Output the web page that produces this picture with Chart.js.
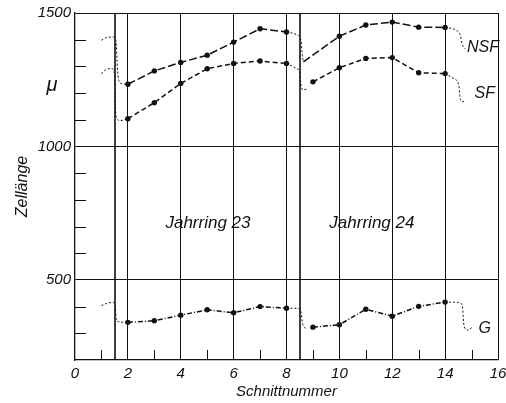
<!DOCTYPE html>
<html>
<head>
<meta charset="utf-8">
<script src="https://cdn.jsdelivr.net/npm/chart.js@4/dist/chart.umd.min.js"></script>
<style>
  html, body { margin: 0; padding: 0; background: #fff; }
  canvas { display: block; }
</style>
</head>
<body>
<canvas id="zell-chart" width="506" height="403"></canvas>
<script>
// Zellänge je Schnitt, Jahrring 23 (Schnitt 2-8) und 24 (Schnitt 9-14)
const schnitt23 = [2, 3, 4, 5, 6, 7, 8];
const schnitt24 = [9, 10, 11, 12, 13, 14];
const nsf23 = [1233, 1283, 1315, 1342, 1391, 1441, 1429];
const nsf24 = [null, 1413, 1455, 1466, 1447, 1446];
const sf23 = [1104, 1164, 1236, 1291, 1311, 1320, 1311];
const sf24 = [1242, 1295, 1330, 1333, 1276, 1273];
const g23 = [341, 347, 368, 388, 377, 400, 394];
const g24 = [323, 332, 390, 364, 401, 417];

// Übergänge (gestrichelt): Anlauf, Jahrringgrenze, Auslauf
const nsfLeadX = [1.0, 1.2, 1.4, 1.55, 1.6, 1.66, 1.8, 2];
const nsfLeadY = [1398, 1408, 1410, 1395, 1300, 1245, 1235, 1233];
const sfLeadX = [1.0, 1.2, 1.38, 1.5, 1.53, 1.58, 1.7, 2];
const sfLeadY = [1273, 1290, 1292, 1270, 1150, 1105, 1097, 1104];
const gLeadX = [1.0, 1.2, 1.42, 1.52, 1.56, 1.65, 2];
const gLeadY = [404, 412, 416, 400, 355, 343, 341];

const nsfBreakX = [8, 8.4, 8.55, 8.6, 8.64];
const nsfBreakY = [1429, 1418, 1395, 1340, 1317];
const sfBreakX = [8, 8.35, 8.5, 8.55, 8.62, 8.75];
const sfBreakY = [1311, 1294, 1275, 1230, 1212, 1215];
const gBreakX = [8, 8.44, 8.55, 8.6, 8.68, 8.8];
const gBreakY = [394, 393, 380, 340, 322, 318];

const nsfTailX = [14, 14.4, 14.58, 14.64, 14.75];
const nsfTailY = [1446, 1436, 1415, 1385, 1366];
const sfTailX = [14, 14.3, 14.52, 14.56, 14.65, 14.78];
const sfTailY = [1273, 1256, 1228, 1185, 1168, 1172];
const gTailX = [14, 14.5, 14.65, 14.7, 14.78, 14.9, 15.0];
const gTailY = [417, 416, 405, 340, 315, 312, 322];

const ringBreaks = [1.5, 8.5];
const xLabels = [0, 2, 4, 6, 8, 10, 12, 14, 16];
const yLabels = [500, 1000, 1500];

(function () {
    "use strict";

    const FONT = "'Liberation Sans', 'DejaVu Sans', sans-serif";
    const ink = "#111";

    function pts(xs, ys) {
        return xs.map((x, i) => ({ x: x, y: ys[i] }));
    }

    function mainLine(xs, ys, dash, extra) {
        return Object.assign({
            data: pts(xs, ys),
            borderColor: ink,
            borderWidth: 1.5,
            borderDash: dash,
            pointRadius: 2.7,
            pointBackgroundColor: ink,
            pointBorderWidth: 0,
            tension: 0,
            spanGaps: true
        }, extra || {});
    }

    function connector(xs, ys) {
        return {
            data: pts(xs, ys),
            borderColor: ink,
            borderWidth: 1,
            borderDash: [2, 2],
            pointRadius: 0,
            cubicInterpolationMode: "monotone"
        };
    }

    // NSF in Jahrring 24 beginnt am Fuß der Grenzkurve
    const nsf24X = [nsfBreakX[nsfBreakX.length - 1]].concat(schnitt24.slice(1));
    const nsf24Y = [nsfBreakY[nsfBreakY.length - 1]].concat(nsf24.slice(1));

    const datasets = [
        mainLine(schnitt23, nsf23, [8, 3]),
        mainLine(nsf24X, nsf24Y, [8, 3], { pointRadius: nsf24X.map((x, i) => i === 0 ? 0 : 2.7) }),
        mainLine(schnitt23, sf23, [5, 3]),
        mainLine(schnitt24, sf24, [5, 3]),
        mainLine(schnitt23, g23, [5, 2, 1, 2]),
        mainLine(schnitt24, g24, [5, 2, 1, 2]),
        connector(nsfLeadX, nsfLeadY),
        connector(sfLeadX, sfLeadY),
        connector(gLeadX, gLeadY),
        connector(nsfBreakX, nsfBreakY),
        connector(sfBreakX, sfBreakY),
        connector(gBreakX, gBreakY),
        connector(nsfTailX, nsfTailY),
        connector(sfTailX, sfTailY),
        connector(gTailX, gTailY)
    ];

    // Innenliegende Teilstriche, Jahrringgrenzen und Beschriftungen
    const decorations = {
        id: "decorations",
        beforeDatasetsDraw(chart) {
            const { ctx, chartArea: a, scales: { x, y } } = chart;
            ctx.save();
            ctx.strokeStyle = ink;
            ctx.lineWidth = 1;
            ctx.beginPath();
            for (let v = 1; v < 16; v += 2) {
                const px = Math.round(x.getPixelForValue(v)) + 0.5;
                ctx.moveTo(px, a.bottom);
                ctx.lineTo(px, a.bottom - 10);
            }
            for (let v = 300; v < 1500; v += 100) {
                if (yLabels.includes(v)) continue;
                const py = Math.round(y.getPixelForValue(v)) + 0.5;
                ctx.moveTo(a.left, py);
                ctx.lineTo(a.left + 11, py);
            }
            ctx.stroke();

            ctx.lineWidth = 1.6;
            ctx.beginPath();
            ringBreaks.forEach(v => {
                const px = Math.round(x.getPixelForValue(v));
                ctx.moveTo(px, a.top);
                ctx.lineTo(px, a.bottom);
            });
            ctx.stroke();
            ctx.restore();
        },
        afterDatasetsDraw(chart) {
            const { ctx, scales: { x, y } } = chart;
            ctx.save();
            ctx.fillStyle = ink;
            ctx.textAlign = "center";
            ctx.textBaseline = "middle";
            ctx.font = "italic 17px " + FONT;
            ctx.fillText("Jahrring 23", x.getPixelForValue(5.03), y.getPixelForValue(714));
            ctx.fillText("Jahrring 24", x.getPixelForValue(11.23), y.getPixelForValue(714));
            ctx.font = "italic 16px " + FONT;
            ctx.fillText("NSF", x.getPixelForValue(15.43), y.getPixelForValue(1372));
            ctx.fillText("SF", x.getPixelForValue(15.5), y.getPixelForValue(1199));
            ctx.fillText("G", x.getPixelForValue(15.5), y.getPixelForValue(316));
            ctx.font = "italic 20px " + FONT;
            ctx.fillText("\u03bc", x.getPixelForValue(-0.87), y.getPixelForValue(1229));
            ctx.restore();
        }
    };

    const tickFont = { family: FONT, size: 15, style: "italic" };

    new Chart(document.getElementById("zell-chart"), {
        type: "line",
        data: { datasets: datasets },
        options: {
            responsive: false,
            animation: false,
            layout: { padding: { top: 13, right: 8, left: 0, bottom: 0 } },
            plugins: {
                legend: { display: false },
                tooltip: { enabled: false }
            },
            scales: {
                x: {
                    type: "linear",
                    min: 0,
                    max: 16,
                    afterFit(s) {
                        s.height = 43;
                        s.paddingLeft = 0;
                        s.paddingRight = 0;
                    },
                    ticks: {
                        stepSize: 1,
                        autoSkip: false,
                        maxRotation: 0,
                        padding: 5,
                        color: ink,
                        font: tickFont,
                        callback: v => xLabels.includes(v) ? String(v) : ""
                    },
                    grid: {
                        drawTicks: false,
                        lineWidth: 1,
                        color: c => (c.tick && xLabels.includes(c.tick.value) && c.tick.value > 0) ? ink : "rgba(0,0,0,0)"
                    },
                    border: { display: true, color: ink, width: 1.3 },
                    title: {
                        display: true,
                        text: "Schnittnummer",
                        color: ink,
                        font: { family: FONT, size: 15, style: "italic" },
                        padding: { top: 0, bottom: 2 }
                    }
                },
                y: {
                    min: 200,
                    max: 1500,
                    afterFit(s) {
                        s.width = 75;
                        s.paddingTop = 0;
                        s.paddingBottom = 0;
                    },
                    ticks: {
                        stepSize: 100,
                        autoSkip: false,
                        padding: 4,
                        color: ink,
                        font: tickFont,
                        callback: v => yLabels.includes(v) ? String(v) : ""
                    },
                    grid: {
                        drawTicks: false,
                        lineWidth: 1,
                        color: c => (c.tick && yLabels.includes(c.tick.value)) ? ink : "rgba(0,0,0,0)"
                    },
                    border: { display: true, color: ink, width: 1.3 },
                    title: {
                        display: true,
                        text: "Zellänge",
                        color: ink,
                        font: { family: FONT, size: 16, style: "italic" },
                        padding: { top: 13, bottom: 0 }
                    }
                }
            }
        },
        plugins: [decorations]
    });
})();
</script>
</body>
</html>
